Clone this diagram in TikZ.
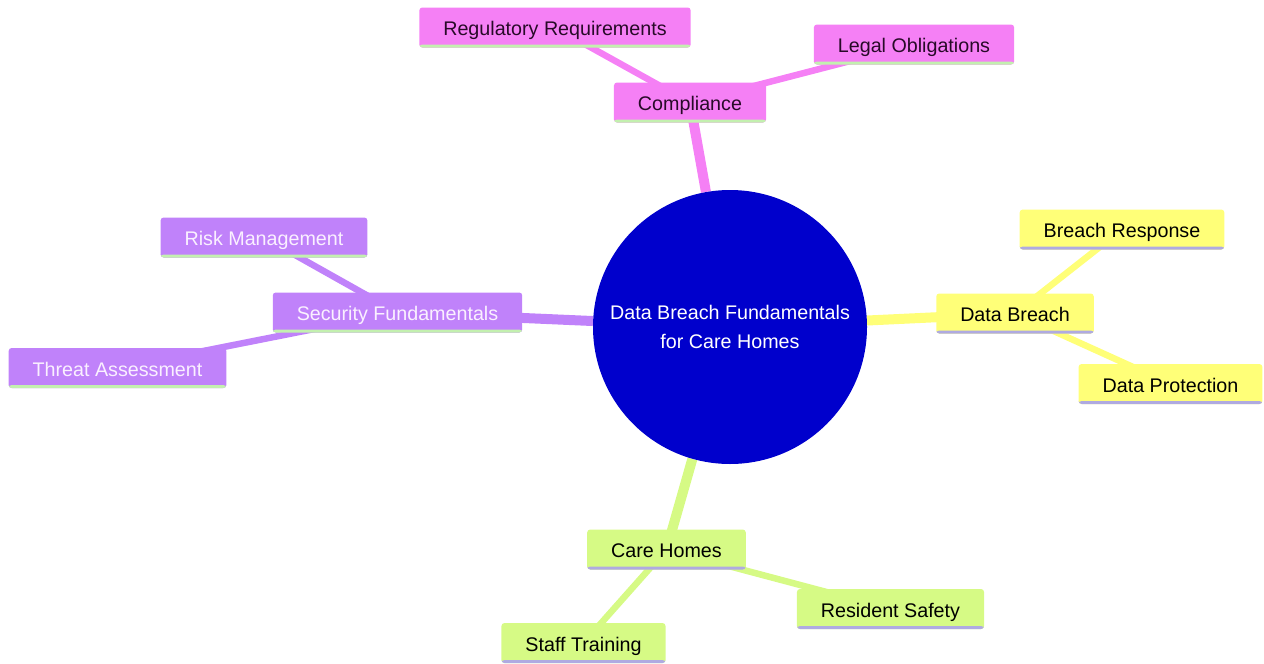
\documentclass[tikz,border=0pt]{standalone}
\usepackage{fontspec}
\setmainfont{Liberation Sans}
\usetikzlibrary{backgrounds}
\definecolor{rootc}{RGB}{0,0,204}
\definecolor{pinkc}{RGB}{245,128,245}
\definecolor{yelc}{RGB}{255,255,120}
\definecolor{grnc}{RGB}{214,250,133}
\definecolor{purc}{RGB}{192,130,250}
\definecolor{lav}{RGB}{175,170,225}
\definecolor{lgrn}{RGB}{195,240,175}
\definecolor{pinktext}{RGB}{40,10,40}
\definecolor{purtext}{RGB}{250,240,255}
\tikzset{
  box/.style={rounded corners=3pt, inner xsep=24pt, minimum height=40pt,
    font=\fontsize{19.7}{24}\selectfont, text height=17pt, text depth=1pt},
  botline/.style={path picture={\fill[#1] ([yshift=3pt]path picture bounding box.south west) rectangle (path picture bounding box.south east);}},
  pinkbox/.style={box, fill=pinkc, text=pinktext, botline=lgrn},
  yelbox/.style={box, fill=yelc, text=black, botline=lav},
  grnbox/.style={box, fill=grnc, text=black, botline=lav},
  purbox/.style={box, fill=purc, text=purtext, botline=lgrn},
  mainedge/.style={line width=10pt},
  subedge/.style={line width=6.5pt},
}
\begin{document}
\begin{tikzpicture}[x=1pt,y=-1pt]
\useasboundingbox (0,0) rectangle (1264,664);
\node[circle, fill=rootc, minimum size=274pt, inner sep=0pt, text=white, align=center,
  font=\fontsize{19.7}{29}\selectfont] (root) at (730,327) {Data Breach Fundamentals\\for Care Homes};

\node[pinkbox] (comp) at (690,102.5) {Compliance};
\node[pinkbox] (reg) at (555,27.5) {Regulatory Requirements};
\node[pinkbox] (legal) at (914,44.5) {Legal Obligations};

\node[yelbox] (db) at (1015,313.5) {Data Breach};
\node[yelbox] (resp) at (1122,229.5) {Breach Response};
\node[yelbox] (prot) at (1170.5,384) {Data Protection};

\node[purbox] (sec) at (397.5,312.5) {Security Fundamentals};
\node[purbox] (risk) at (264,237.5) {Risk Management};
\node[purbox] (threat) at (117.5,368) {Threat Assessment};

\node[grnbox] (care) at (666.5,549.5) {Care Homes};
\node[grnbox] (safe) at (890.5,609) {Resident Safety};
\node[grnbox] (staff) at (583.5,643) {Staff Training};

\begin{scope}[on background layer]
\draw[mainedge, pinkc] (root) -- (comp.center);
\draw[subedge, pinkc] (comp.center) -- (reg.center);
\draw[subedge, pinkc] (comp.center) -- (legal.center);
\draw[mainedge, yelc] (root) -- (db.center);
\draw[subedge, yelc] (db.center) -- (resp.center);
\draw[subedge, yelc] (db.center) -- (prot.center);
\draw[mainedge, purc] (root) -- (sec.center);
\draw[subedge, purc] (sec.center) -- (risk.center);
\draw[subedge, purc] (sec.center) -- (threat.center);
\draw[mainedge, grnc] (root) -- (care.center);
\draw[subedge, grnc] (care.center) -- (safe.center);
\draw[subedge, grnc] (care.center) -- (staff.center);
\end{scope}
\end{tikzpicture}
\end{document}
